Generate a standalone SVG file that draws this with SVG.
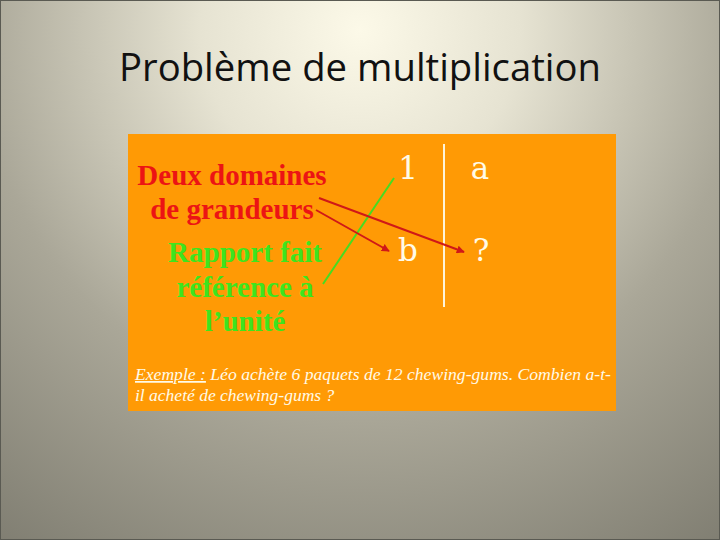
<svg xmlns="http://www.w3.org/2000/svg" width="720" height="540" viewBox="0 0 720 540">
<defs>
<radialGradient id="bg" cx="360" cy="30" r="640" gradientUnits="userSpaceOnUse">
<stop offset="0" stop-color="#fcf9e8"/>
<stop offset="0.25" stop-color="#e6e3d2"/>
<stop offset="0.6" stop-color="#aaa798"/>
<stop offset="1" stop-color="#7e7c70"/>
</radialGradient>
<marker id="ah" viewBox="0 0 10 10" refX="9" refY="5" markerWidth="4" markerHeight="4" orient="auto" markerUnits="strokeWidth">
<path d="M0,0 L10,5 L0,10 z" fill="#d01818"/>
</marker>
<style>
.lbl{font-family:"Liberation Serif","Times New Roman",serif;font-weight:bold;font-size:29px;text-anchor:middle}
.red{fill:#ec1414}
.green{fill:#3ee41e}
.val{font-family:"DejaVu Serif","Liberation Serif",serif;font-size:31px;fill:#fffbe8;text-anchor:middle}
.ex{font-family:"Liberation Serif","Times New Roman",serif;font-style:italic;font-size:17.5px;fill:#fffbe8}
</style>
</defs>
<rect x="0" y="0" width="720" height="540" fill="url(#bg)"/>
<rect x="0.5" y="0.5" width="719" height="539" fill="none" stroke="#5a5a52" stroke-width="1"/>
<text x="360" y="81" font-family="'Open Sans','Liberation Sans',sans-serif" font-size="38" fill="#111" text-anchor="middle" textLength="482" lengthAdjust="spacingAndGlyphs">Problème de multiplication</text>
<rect x="128" y="134" width="488" height="277" fill="#ff9a05"/>
<g id="domaines">
<text class="lbl red" x="232" y="185">Deux domaines</text>
<text class="lbl red" x="232" y="219">de grandeurs</text>
</g>
<g id="rapport">
<text class="lbl green" x="245" y="262">Rapport fait</text>
<text class="lbl green" x="245" y="297">référence à</text>
<text class="lbl green" x="245" y="331">l’unité</text>
</g>
<g id="table">
<line x1="444" y1="144" x2="444" y2="307" stroke="#fff4d8" stroke-width="2"/>
<text class="val" x="408" y="179">1</text>
<text class="val" x="480" y="179">a</text>
<text class="val" x="408" y="261">b</text>
<text class="val" x="481" y="261">?</text>
</g>
<g id="connectors" fill="none" stroke-width="2">
<line x1="323" y1="284" x2="394" y2="178" stroke="#44dd22"/>
<line x1="319" y1="198" x2="464" y2="252" stroke="#d01818" marker-end="url(#ah)"/>
<line x1="316" y1="210" x2="389" y2="251" stroke="#d01818" marker-end="url(#ah)"/>
</g>
<g id="exemple">
<text class="ex" x="135" y="380" textLength="476" lengthAdjust="spacingAndGlyphs"><tspan text-decoration="underline">Exemple :</tspan> Léo achète 6 paquets de 12 chewing-gums. Combien a-t-</text>
<text class="ex" x="135" y="401">il acheté de chewing-gums ?</text>
</g>
</svg>
